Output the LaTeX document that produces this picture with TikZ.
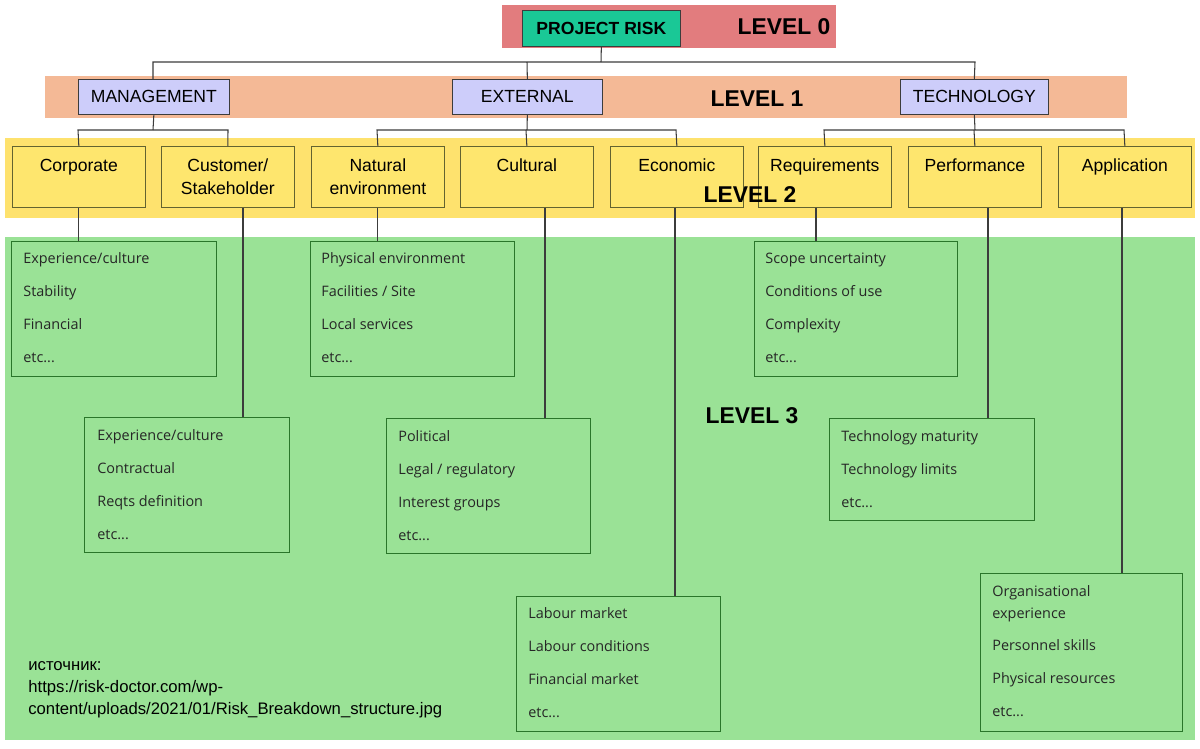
\documentclass[tikz,border=0pt]{standalone}
\usepackage{fontspec}
\setmainfont{Liberation Sans}
\newfontfamily\itemfont{Open Sans}
\usetikzlibrary{positioning}
\definecolor{bandred}{RGB}{226,124,126}
\definecolor{bandsalmon}{RGB}{244,185,150}
\definecolor{bandyellow}{RGB}{254,226,110}
\definecolor{bandgreen}{RGB}{154,226,150}
\definecolor{teal}{RGB}{26,200,150}
\definecolor{lavender}{RGB}{205,205,250}
\definecolor{boxyellow}{RGB}{254,230,110}
\definecolor{linegray}{RGB}{60,60,60}
\newcommand\etcdots{etc...}

\begin{document}
\begin{tikzpicture}[x=0.02cm,y=-0.02cm,
  lone/.style={draw=linegray,anchor=north west,inner sep=0pt,minimum height=35*0.02cm,minimum width=150*0.02cm,font=\fontsize{10}{12}\selectfont},
  ltwo/.style={draw=linegray!80!yellow,fill=boxyellow,anchor=north west,inner sep=0pt,minimum width=133*0.02cm,minimum height=61*0.02cm,align=center,font=\fontsize{10}{13}\selectfont,text depth=0pt},
  lthree/.style={draw=linegray!70!green,fill=bandgreen,anchor=north west,inner sep=0pt,minimum width=205*0.02cm},
  item/.style={anchor=base west,font=\itemfont\fontsize{8.2}{10}\selectfont,text=black!85,inner sep=0pt},
  lvl/.style={font=\bfseries\fontsize{13}{14}\selectfont},
  conn/.style={draw=linegray,line width=0.6pt}]
\useasboundingbox (0,0) rectangle (1200,748);

% bands
\fill[bandred] (502,5) rectangle (836,48);
\fill[bandsalmon] (45,76) rectangle (1127,118);
\fill[bandyellow] (5,138) rectangle (1195,218);
\fill[bandgreen] (5,237) rectangle (1195,740);

% level 0 and 1
\node[draw=linegray,fill=teal,anchor=north west,minimum width=158*0.02cm,minimum height=36*0.02cm,inner sep=0pt,font=\bfseries\fontsize{10}{12}\selectfont] (risk) at (522,10) {PROJECT RISK};
\node[lone,fill=lavender,minimum width=151*0.02cm] (mgmt) at (78,79) {MANAGEMENT};
\node[lone,fill=lavender] (ext) at (452,79) {EXTERNAL};
\node[lone,fill=lavender,minimum width=148*0.02cm] (tech) at (900,79) {TECHNOLOGY};

% level 2
\node[ltwo] (corp) at (12,146) {Corporate\\\strut};
\node[ltwo] (cust) at (161,146) {Customer/\\Stakeholder};
\node[ltwo] (nat) at (311,146) {Natural\\environment};
\node[ltwo] (cult) at (460,146) {Cultural\\\strut};
\node[ltwo] (econ) at (610,146) {Economic\\\strut};
\node[ltwo] (req) at (758,146) {Requirements\\\strut};
\node[ltwo] (perf) at (908,146) {Performance\\\strut};
\node[ltwo] (appl) at (1058,146) {Application\\\strut};

\node[lvl] (lv0) at (784,27) {LEVEL 0};
\node[lvl] (lv1) at (757,99) {LEVEL 1};
\node[lvl] (lv2) at (750,195) {LEVEL 2};
\node[lvl] (lv3) at (752,416) {LEVEL 3};

% tree lines
\draw[conn] (risk.south) -- (601,62);
\draw[conn] (153,79) -- (153,62) -- (975,62) -- (tech.north);
\draw[conn] (ext.north) -- (527,62);
\draw[conn] (mgmt.south) -- (153,130);
\draw[conn] (corp.north) -- (78,130) -- (228,130) -- (cust.north);
\draw[conn] (ext.south) -- (527,130);
\draw[conn] (nat.north) -- (377,130) -- (676,130) -- (econ.north);
\draw[conn] (cult.north) -- (526,130);
\draw[conn] (tech.south) -- (975,130);
\draw[conn] (req.north) -- (824,130) -- (1124,130) -- (appl.north);
\draw[conn] (perf.north) -- (974,130);

% level 3 boxes
\node[lthree,minimum height=135*0.02cm] (bcorp) at (11,241) {};
\node[lthree,minimum height=135*0.02cm] (bcust) at (84,417) {};
\node[lthree,minimum height=135*0.02cm,minimum width=204*0.02cm] (bnat) at (310,241) {};
\node[lthree,minimum height=135*0.02cm,minimum width=204*0.02cm] (bcult) at (386,418) {};
\node[lthree,minimum height=135*0.02cm,minimum width=204*0.02cm] (becon) at (516,596) {};
\node[lthree,minimum height=135*0.02cm,minimum width=203*0.02cm] (breq) at (754,241) {};
\node[lthree,minimum height=102*0.02cm] (bperf) at (829,418) {};
\node[lthree,minimum height=158*0.02cm,minimum width=202*0.02cm] (bappl) at (980,573) {};

\draw[conn] (corp.south) -- (bcorp.north -| corp.south);
\draw[conn] (cust.south -| 243,0) -- (bcust.north -| 243,0);
\draw[conn] (nat.south) -- (bnat.north -| nat.south);
\draw[conn] (cult.south -| 545,0) -- (bcult.north -| 545,0);
\draw[conn] (econ.south -| 675,0) -- (becon.north -| 675,0);
\draw[conn] (req.south -| 816,0) -- (breq.north -| 816,0);
\draw[conn] (perf.south -| 988,0) -- (bperf.north -| 988,0);
\draw[conn] (appl.south -| 1122,0) -- (bappl.north -| 1122,0);

% level 3 items
\foreach \t [count=\i] in {Experience/culture,Stability,Financial,\etcdots}
  \node[item] (icorp\i) at (23,263+33*\i-33) {\t};
\foreach \t [count=\i] in {Experience/culture,Contractual,Reqts definition,\etcdots}
  \node[item] (icust\i) at (97,440+33*\i-33) {\t};
\foreach \t [count=\i] in {Physical environment,Facilities / Site,Local services,\etcdots}
  \node[item] (inat\i) at (321,263+33*\i-33) {\t};
\foreach \t [count=\i] in {Political,Legal / regulatory,Interest groups,\etcdots}
  \node[item] (icult\i) at (398,441+33*\i-33) {\t};
\foreach \t [count=\i] in {Labour market,Labour conditions,Financial market,\etcdots}
  \node[item] (iecon\i) at (528,618+33*\i-33) {\t};
\foreach \t [count=\i] in {Scope uncertainty,Conditions of use,Complexity,\etcdots}
  \node[item] (ireq\i) at (765,263+33*\i-33) {\t};
\foreach \t [count=\i] in {Technology maturity,Technology limits,\etcdots}
  \node[item] (iperf\i) at (841,441+33*\i-33) {\t};
\node[item] (iappl1) at (992,596) {Organisational};
\node[item] (iappl2) at (992,618) {experience};
\foreach \t [count=\i] in {Personnel skills,Physical resources,\etcdots}
  \node[item] (iappl\i x) at (992,650+33*\i-33) {\t};

% source note
\node[anchor=north west,align=left,inner sep=0pt,font=\fontsize{9.5}{12.5}\selectfont] (src) at (28,661)
  {источник:\\https://risk-doctor.com/wp-\\content/uploads/2021/01/Risk\_Breakdown\_structure.jpg};
\end{tikzpicture}
\end{document}
